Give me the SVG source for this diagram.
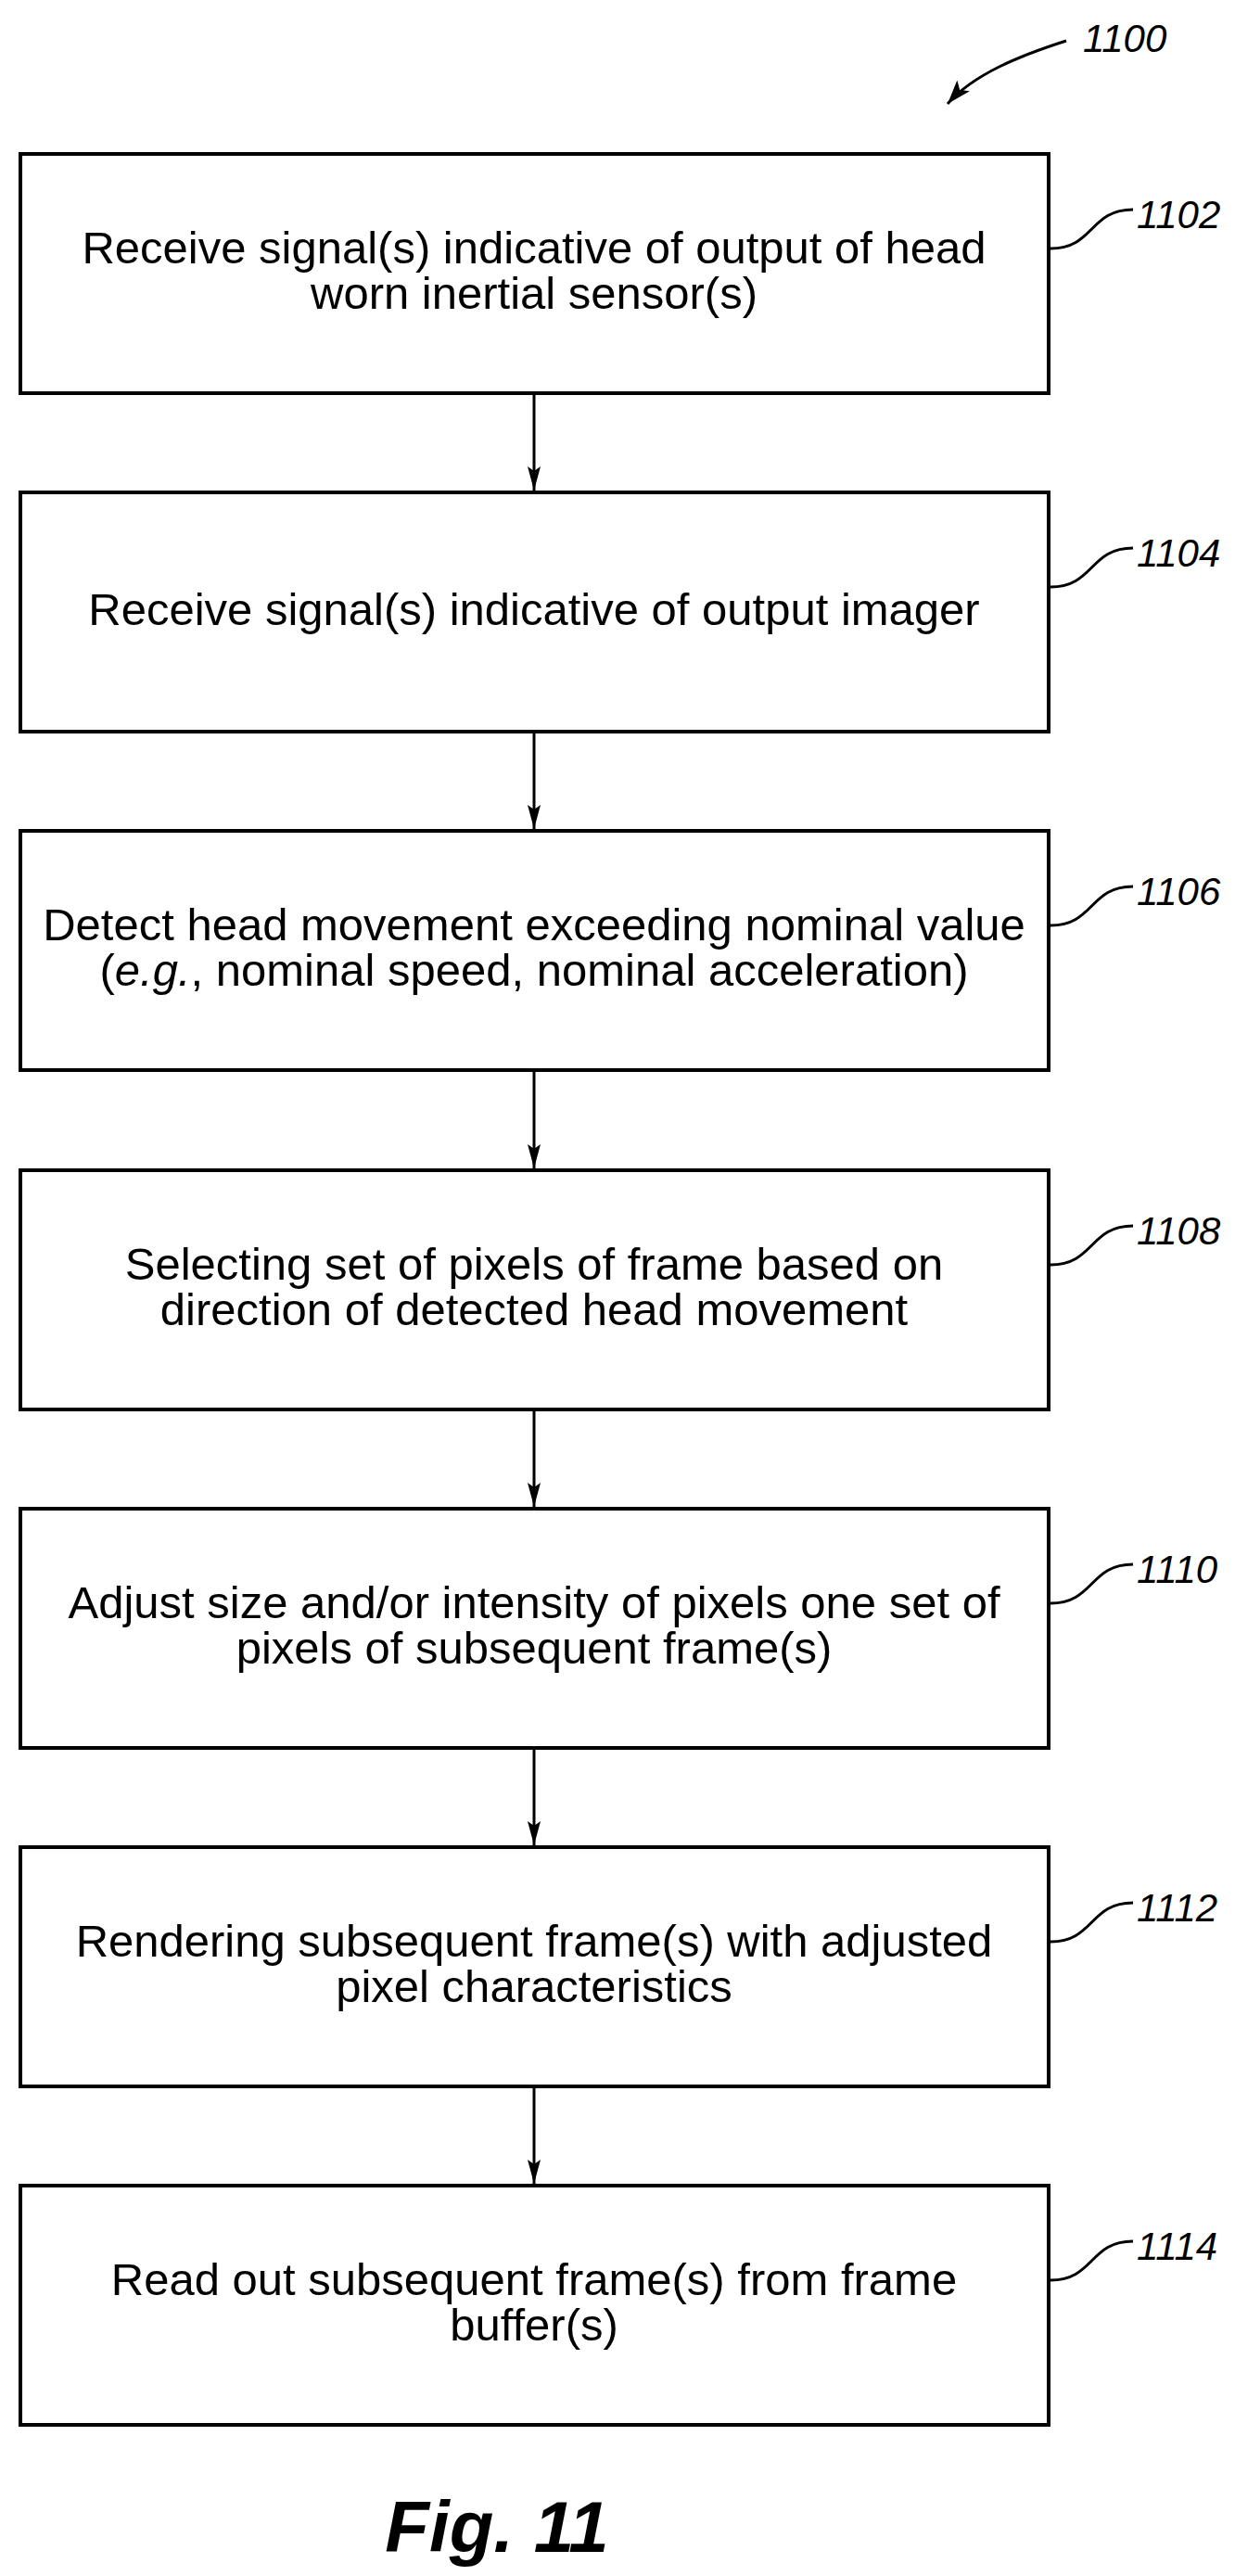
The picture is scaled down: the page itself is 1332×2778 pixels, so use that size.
<svg xmlns="http://www.w3.org/2000/svg" width="1332" height="2778" viewBox="0 0 1332 2778">
<style>
.box{fill:#fff;stroke:#000;stroke-width:4}
.t{font-family:"Liberation Sans",Arial,sans-serif;font-size:49px;text-anchor:middle;fill:#000}
.lb{font-family:"Liberation Sans",Arial,sans-serif;font-size:42px;font-style:italic;fill:#000}
.ld{fill:none;stroke:#000;stroke-width:3}
.cn{stroke:#000;stroke-width:3;fill:none}
</style>
<defs>
<marker id="ah" markerWidth="26" markerHeight="14" refX="26" refY="7" orient="auto" markerUnits="userSpaceOnUse" viewBox="0 0 26 14">
<path d="M0,0 L26,7 L0,14 L5,7 Z" fill="#000"/>
</marker>
<marker id="ah2" markerWidth="30" markerHeight="30" refX="26" refY="15" orient="auto" markerUnits="userSpaceOnUse" viewBox="0 0 30 30">
<path d="M0,6 L26,15 L0,24 L6,15 Z" fill="#000"/>
</marker>
</defs>
<g id="ref1100">
<path class="ld" d="M1150,44 C1100,60 1050,80 1022,112" marker-end="url(#ah2)"/>
<text class="lb" x="1168" y="56">1100</text>
</g>
<g id="n1102"><rect class="box" x="22" y="166" width="1109" height="258"/>
<text class="t" x="576" y="284">Receive signal(s) indicative of output of head</text>
<text class="t" x="576" y="333">worn inertial sensor(s)</text>
<path class="ld" d="M1133,268 C1180,268 1175,226 1222,226"/><text class="lb" x="1226" y="246">1102</text></g>
<g id="n1104"><rect class="box" x="22" y="531" width="1109" height="258"/>
<text class="t" x="576" y="674">Receive signal(s) indicative of output imager</text>
<path class="ld" d="M1133,633 C1180,633 1175,591 1222,591"/><text class="lb" x="1226" y="611">1104</text></g>
<g id="n1106"><rect class="box" x="22" y="896" width="1109" height="258"/>
<text class="t" x="576" y="1014">Detect head movement exceeding nominal value</text>
<text class="t" x="576" y="1063">(<tspan font-style="italic">e.g.</tspan>, nominal speed, nominal acceleration)</text>
<path class="ld" d="M1133,998 C1180,998 1175,956 1222,956"/><text class="lb" x="1226" y="976">1106</text></g>
<g id="n1108"><rect class="box" x="22" y="1262" width="1109" height="258"/>
<text class="t" x="576" y="1380">Selecting set of pixels of frame based on</text>
<text class="t" x="576" y="1429">direction of detected head movement</text>
<path class="ld" d="M1133,1364 C1180,1364 1175,1322 1222,1322"/><text class="lb" x="1226" y="1342">1108</text></g>
<g id="n1110"><rect class="box" x="22" y="1627" width="1109" height="258"/>
<text class="t" x="576" y="1745">Adjust size and/or intensity of pixels one set of</text>
<text class="t" x="576" y="1794">pixels of subsequent frame(s)</text>
<path class="ld" d="M1133,1729 C1180,1729 1175,1687 1222,1687"/><text class="lb" x="1226" y="1707">1110</text></g>
<g id="n1112"><rect class="box" x="22" y="1992" width="1109" height="258"/>
<text class="t" x="576" y="2110">Rendering subsequent frame(s) with adjusted</text>
<text class="t" x="576" y="2159">pixel characteristics</text>
<path class="ld" d="M1133,2094 C1180,2094 1175,2052 1222,2052"/><text class="lb" x="1226" y="2072">1112</text></g>
<g id="n1114"><rect class="box" x="22" y="2357" width="1109" height="258"/>
<text class="t" x="576" y="2475">Read out subsequent frame(s) from frame</text>
<text class="t" x="576" y="2524">buffer(s)</text>
<path class="ld" d="M1133,2459 C1180,2459 1175,2417 1222,2417"/><text class="lb" x="1226" y="2437">1114</text></g>
<g id="connectors">
<line class="cn" x1="576" y1="426" x2="576" y2="529" marker-end="url(#ah)"/>
<line class="cn" x1="576" y1="791" x2="576" y2="894" marker-end="url(#ah)"/>
<line class="cn" x1="576" y1="1156" x2="576" y2="1260" marker-end="url(#ah)"/>
<line class="cn" x1="576" y1="1522" x2="576" y2="1625" marker-end="url(#ah)"/>
<line class="cn" x1="576" y1="1887" x2="576" y2="1990" marker-end="url(#ah)"/>
<line class="cn" x1="576" y1="2252" x2="576" y2="2355" marker-end="url(#ah)"/>
</g>
<text x="536" y="2752" font-family="Liberation Sans,Arial,sans-serif" font-size="78" font-weight="bold" font-style="italic" text-anchor="middle">Fig. 11</text>
</svg>
